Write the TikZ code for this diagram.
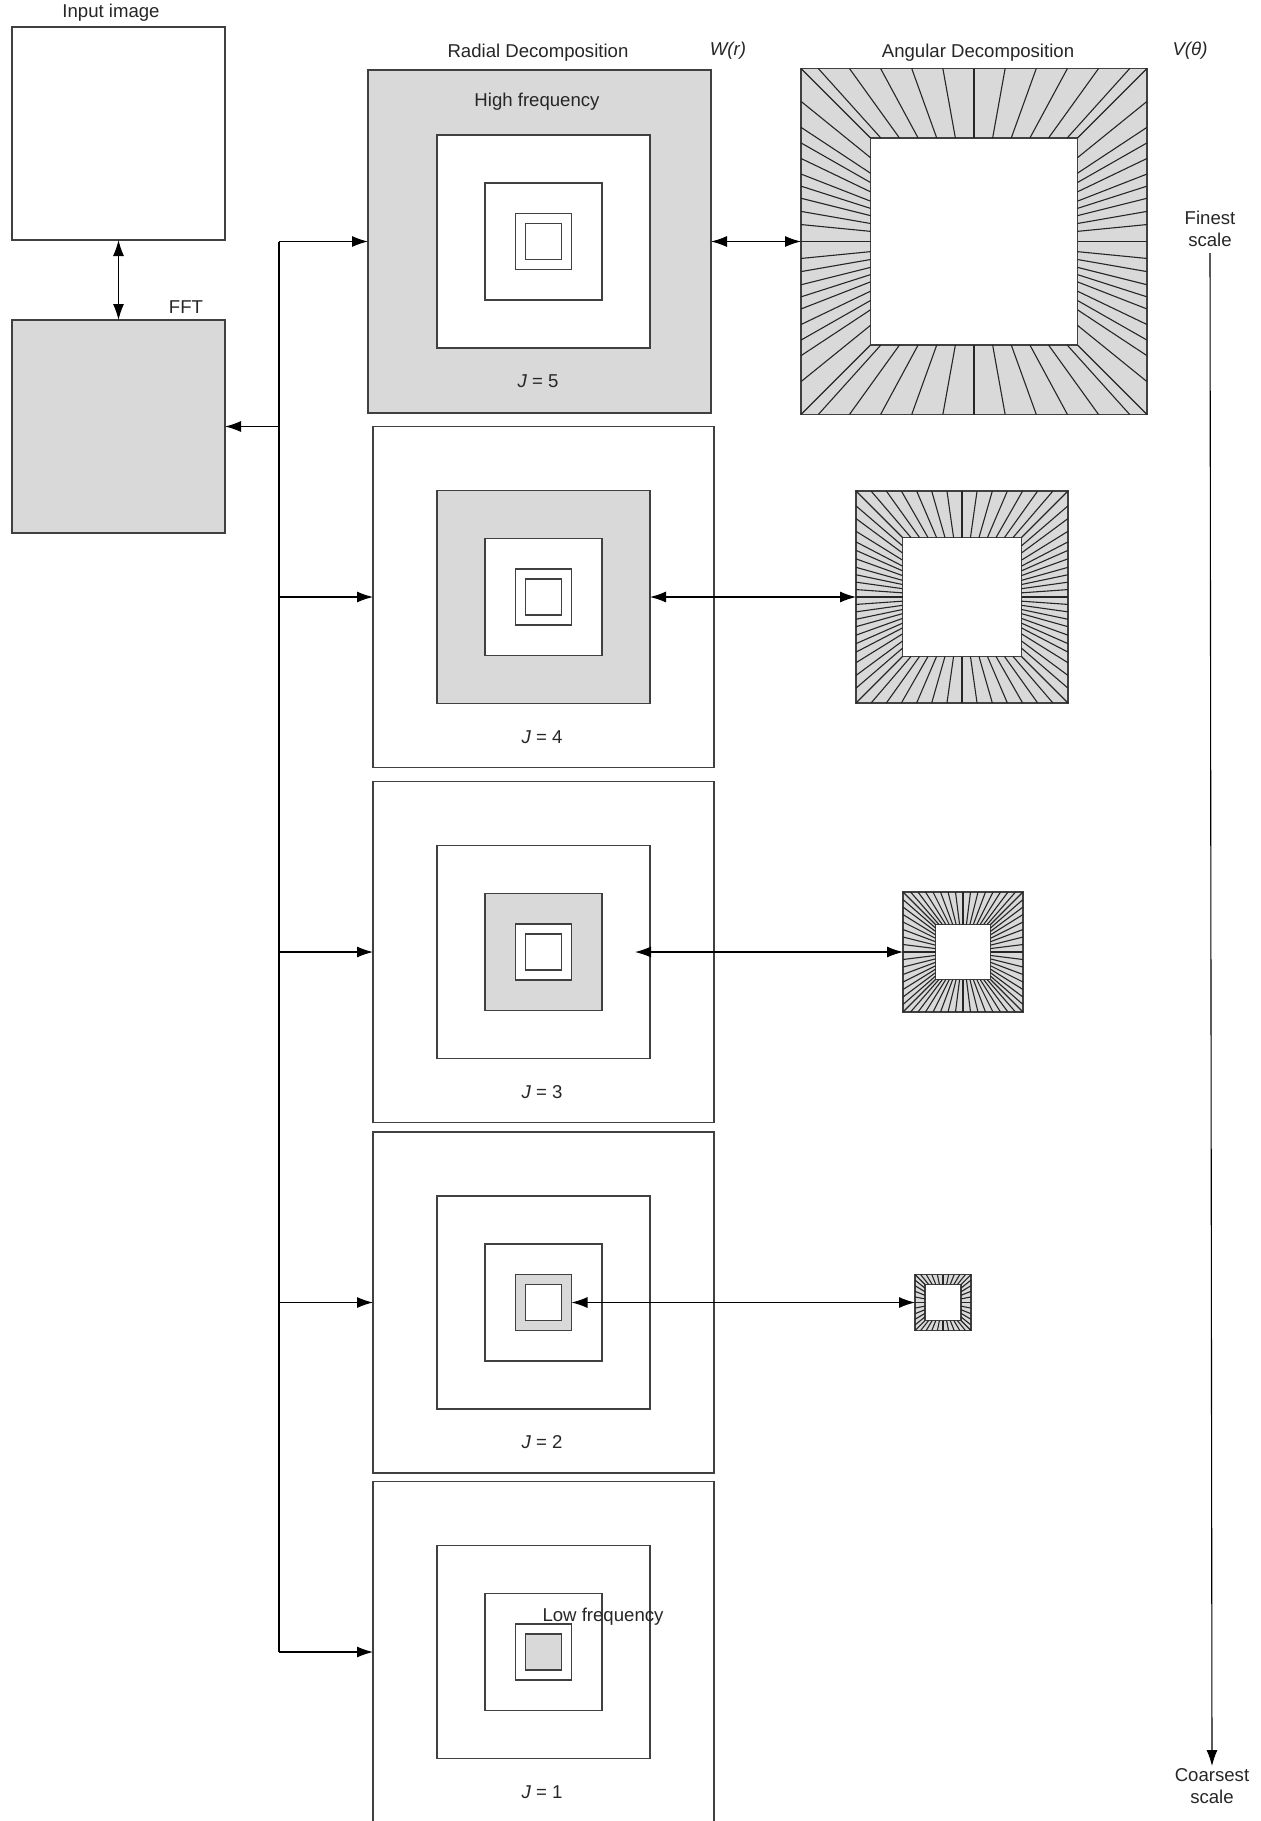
\documentclass[tikz,border=0pt]{standalone}
\usepackage{fontspec}
\setmainfont{Liberation Sans}
\usetikzlibrary{arrows.meta, calc, positioning}
\definecolor{panel}{RGB}{217,217,217}
\tikzset{
    sq/.style={rectangle, draw=black!75, line width=0.75pt, inner sep=0pt, outer sep=0pt},
    ray/.style={draw=black!85, line width=0.55pt},
    lbl/.style={font=\fontsize{9.3}{11}\selectfont, text=black!85, inner sep=1pt, align=center},
    arr/.style={line width=0.55pt, -{Latex[length=8pt,width=5.5pt]}},
    arrdouble/.style={line width=0.55pt, {Latex[length=8pt,width=5.5pt]}-{Latex[length=8pt,width=5.5pt]}}
}
% rays between outer box #1 and inner box #1i
\newcommand{\rays}[3]{%
    \foreach \t in {#2} {
        \draw[ray] ($(#1.south west)!\t!(#1.north west)$) -- ($(#1i.south west)!\t!(#1i.north west)$);
        \draw[ray] ($(#1.south east)!\t!(#1.north east)$) -- ($(#1i.south east)!\t!(#1i.north east)$);
    }
    \foreach \t in {#3} {
        \draw[ray] ($(#1.north west)!\t!(#1.north east)$) -- ($(#1i.north west)!\t!(#1i.north east)$);
        \draw[ray] ($(#1.south west)!\t!(#1.south east)$) -- ($(#1i.south west)!\t!(#1i.south east)$);
    }
}
\begin{document}
\begin{tikzpicture}[x=0.5pt, y=-0.5pt]
    \useasboundingbox (0,0) rectangle (1261,1821);

    % Input image and FFT
    \node (input) [sq, fill=white, minimum size=106.5pt] at (118.5,133.5) {};
    \node (fft) [sq, fill=panel, minimum size=106.5pt] at (118.5,426.5) {};
    \node (inputlab) [lbl] at (111,13) {Input image};
    \node (fftlab) [lbl] at (186,307) {FFT};
    \draw [arrdouble] (input.south) -- (fft.north);

    % Radial decomposition, one panel per scale
    \foreach \j/\ox/\os/\cy in {5/539.5/171.5/241.5, 4/543.5/170.5/597, 3/543.5/170.5/952, 2/543.5/170.5/1302.5, 1/543.5/170.5/1652} {
        \pgfmathtruncatemacro\g{5-\j}
        \ifnum\g=0 \def\fc{panel}\else\def\fc{white}\fi
        \node (r\j-0) [sq, fill=\fc, minimum size=\os pt] at (\ox,\cy) {};
        \foreach \k/\s in {1/106.5, 2/58.5, 3/28, 4/18} {
            \ifnum\k=\g \def\fc{panel}\else\def\fc{white}\fi
            \node (r\j-\k) [sq, fill=\fc, minimum size=\s pt] at (543.5,\cy) {};
        }
        \node (jlab\j) [lbl] at (\ox-1.5,\cy+140) {\textit{J} = \j};
    }
    \node (high) [lbl] at (537,102) {High frequency};
    \node (low) [lbl] at (603,1617) {Low frequency};

    % Angular decomposition
    \node (a5) [sq, fill=panel, minimum size=173pt] at (974,241.5) {};
    \node (a5i) [sq, fill=white, minimum size=103.5pt] at (974,241.5) {};
    \node (a4) [sq, fill=panel, minimum size=106pt] at (962,597) {};
    \node (a4i) [sq, fill=white, minimum size=59.5pt] at (962,597) {};
    \node (a3) [sq, fill=panel, minimum size=60pt] at (963,952) {};
    \node (a3i) [sq, fill=white, minimum size=27.5pt] at (963,952) {};
    \node (a2) [sq, fill=panel, minimum size=28pt] at (943,1302.5) {};
    \node (a2i) [sq, fill=white, minimum size=18pt] at (943,1302.5) {};
    \rays{a5}{0,0.095,0.17,0.215,0.26,0.305,0.34,0.375,0.413,0.451,0.5,0.549,0.587,0.625,0.66,0.695,0.74,0.785,0.83,0.905,1}{0.05,0.14,0.23,0.32,0.41,0.5,0.59,0.68,0.77,0.86,0.95}
    \rays{a4}{0,0.07,0.13,0.19,0.24,0.28,0.32,0.36,0.395,0.43,0.465,0.5,0.535,0.57,0.605,0.64,0.68,0.72,0.76,0.81,0.87,0.93,1}{0.071,0.143,0.214,0.286,0.357,0.429,0.5,0.571,0.643,0.714,0.786,0.857,0.929}
    \rays{a3}{0,0.0625,0.125,0.1875,0.25,0.3125,0.375,0.4375,0.5,0.5625,0.625,0.6875,0.75,0.8125,0.875,0.9375,1}{0.0625,0.125,0.1875,0.25,0.3125,0.375,0.4375,0.5,0.5625,0.625,0.6875,0.75,0.8125,0.875,0.9375}
    \rays{a2}{0,0.1,0.2,0.3,0.4,0.5,0.6,0.7,0.8,0.9,1}{0.1,0.2,0.3,0.4,0.5,0.6,0.7,0.8,0.9}

    % Titles
    \node (radtitle) [lbl] at (538,53) {Radial Decomposition};
    \node (wr) [lbl] at (728,51) {\textit{W(r)}};
    \node (angtitle) [lbl] at (978,53) {Angular Decomposition};
    \node (vt) [lbl] at (1190,51) {\textit{V(θ)}};

    % Bus from the FFT to every scale
    \coordinate (bustop) at (279,241.5);
    \draw [line width=0.55pt] (bustop) -- (bustop |- r1-0.west);
    \draw [arr] (bustop |- fft.east) -- (fft.east);
    \foreach \j in {5,4,3,2,1} {
        \draw [arr] (bustop |- r\j-0.west) -- (r\j-0.west);
    }

    % Radial to angular links
    \coordinate (r3end) at (635,952);
    \draw [arrdouble] (r5-0.east) -- (a5.west);
    \draw [arrdouble] (r4-1.east) -- (a4.west);
    \draw [arrdouble] (r3end) -- (a3.west);
    \draw [arrdouble] (r2-3.east) -- (a2.west);

    % Scale axis
    \node (finest) [lbl] at (1210,229) {Finest\\scale};
    \node (coarsest) [lbl] at (1212,1786) {Coarsest\\scale};
    \draw [arr, shorten <=2pt] (finest.south) -- (coarsest.north);
\end{tikzpicture}
\end{document}
